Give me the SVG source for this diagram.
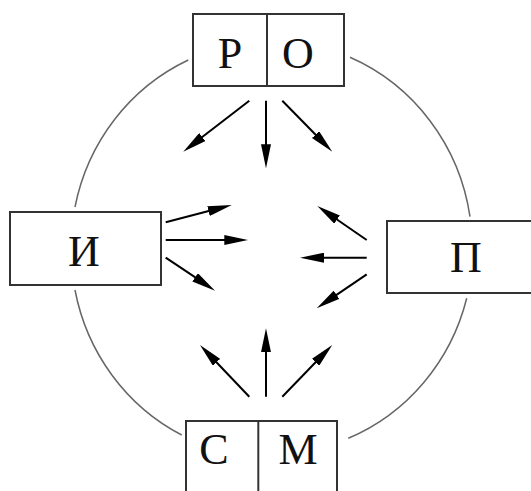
<svg xmlns="http://www.w3.org/2000/svg" width="531" height="491" viewBox="0 0 531 491">
<style>
.arc{fill:none;stroke:#666;stroke-width:1.5}
.box{fill:#fff;stroke:#333;stroke-width:2}
.div{stroke:#333;stroke-width:2}
.lbl{font-family:"Liberation Serif","DejaVu Serif",serif;font-size:44px;fill:#111;text-anchor:middle}
.arr{stroke:#000;stroke-width:2;fill:none;marker-end:url(#ah)}
</style>
<defs>
<marker id="ah" markerUnits="userSpaceOnUse" orient="auto" markerWidth="24" markerHeight="10" refX="16" refY="5">
<path d="M0,0 L24,5 L0,10 z" fill="#000"/>
</marker>
</defs>
<g id="ring">
<path class="arc" d="M188.3,60 A201,207 0 0,0 75,207"/>
<path class="arc" d="M75,290 A201,207 0 0,0 181.7,435"/>
<path class="arc" d="M348.3,438.3 A201,207 0 0,0 466.7,298.3"/>
<path class="arc" d="M470,216.7 A201,207 0 0,0 350,57.3"/>
</g>
<g id="connectors">
<line class="arr" x1="249.3" y1="100.7" x2="189.6" y2="146.8"/>
<line class="arr" x1="266" y1="100.7" x2="266" y2="160.3"/>
<line class="arr" x1="282.3" y1="100.7" x2="326.7" y2="146"/>
<line class="arr" x1="165.7" y1="222.3" x2="224" y2="207"/>
<line class="arr" x1="165.7" y1="240" x2="240.3" y2="240"/>
<line class="arr" x1="165.7" y1="257.7" x2="208.4" y2="286.2"/>
<line class="arr" x1="366.7" y1="240" x2="323.9" y2="210.5"/>
<line class="arr" x1="366.7" y1="257.7" x2="308" y2="257.7"/>
<line class="arr" x1="366.7" y1="274.3" x2="323.3" y2="303.8"/>
<line class="arr" x1="249.3" y1="396.7" x2="205.5" y2="350.8"/>
<line class="arr" x1="266" y1="396.7" x2="266" y2="336.3"/>
<line class="arr" x1="282.3" y1="396.7" x2="326.7" y2="350.8"/>
</g>
<g id="node-top">
<rect class="box" x="193" y="14" width="151" height="72"/>
<line class="div" x1="267" y1="14" x2="267" y2="86"/>
<text class="lbl" x="230" y="68">Р</text>
<text class="lbl" x="298" y="68">О</text>
</g>
<g id="node-left">
<rect class="box" x="10" y="212" width="151" height="73"/>
<text class="lbl" x="84" y="266">И</text>
</g>
<g id="node-right">
<rect class="box" x="387" y="221" width="160" height="72"/>
<text class="lbl" x="466" y="271.5">П</text>
</g>
<g id="node-bottom">
<rect class="box" x="186" y="421" width="151" height="90"/>
<line class="div" x1="258.3" y1="421" x2="258.3" y2="511"/>
<text class="lbl" x="214" y="464">С</text>
<text class="lbl" x="298" y="464">М</text>
</g>
</svg>
